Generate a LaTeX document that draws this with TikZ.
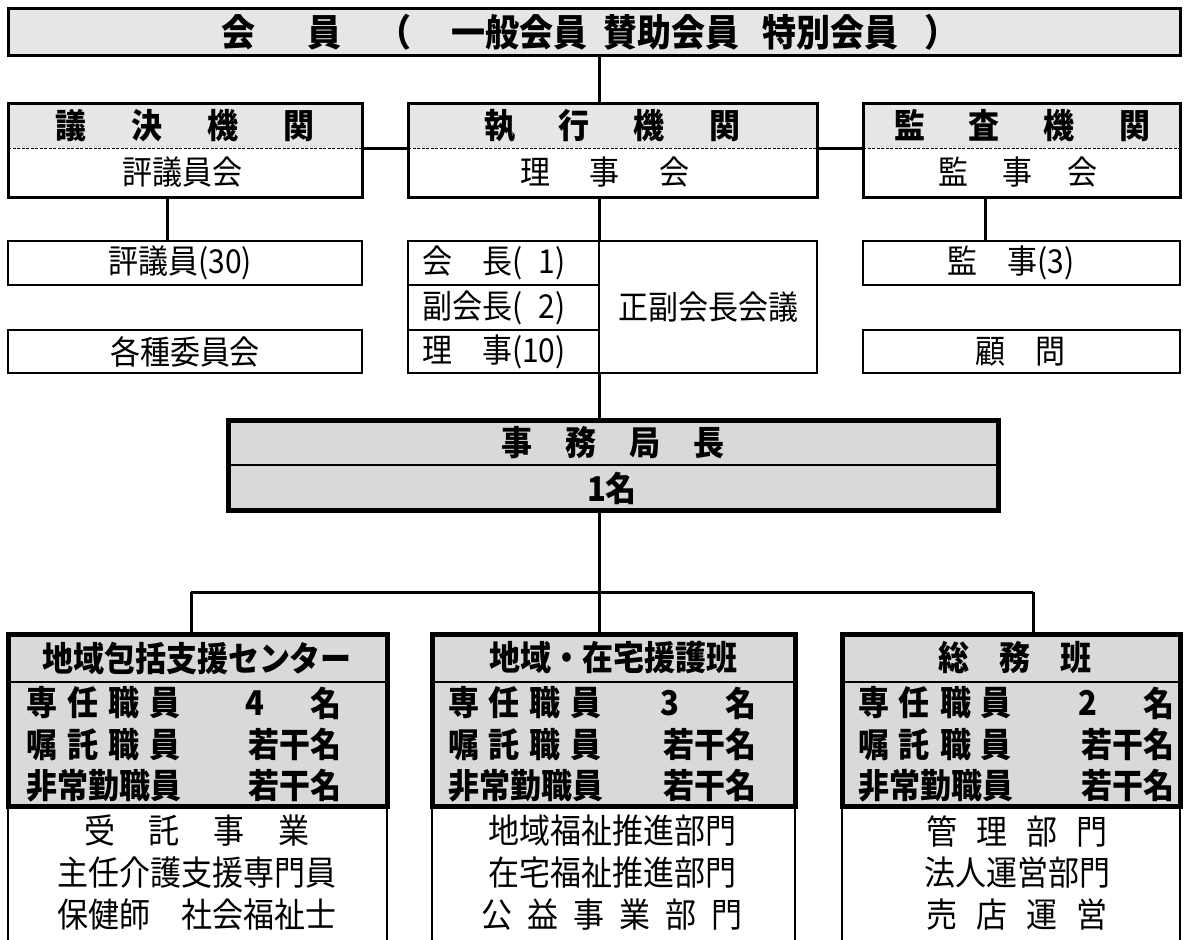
\documentclass[tikz,border=0pt]{standalone}
\usepackage{fontspec}
\newfontfamily\jp{Noto Sans CJK JP}
\usetikzlibrary{calc}
\definecolor{hdrgray}{HTML}{E6E6E6}
\definecolor{boxgray}{HTML}{D9D9D9}
\newcommand{\gapx}[1]{\hspace{#1pt}}
\newcommand{\tall}[1]{\scalebox{1}[1.1]{#1}}
\begin{document}
\begin{tikzpicture}[x=1pt,y=-1pt,
  box/.style={draw=black, inner sep=0pt, outer sep=0pt, anchor=north west},
  heavy/.style={line width=5pt},
  medium/.style={line width=3pt},
  light/.style={line width=2pt},
  conn/.style={draw=black, line width=3pt},
  divider/.style={draw=black, line width=1.5pt},
  sideline/.style={draw=black, line width=1.5pt},
  dashdiv/.style={draw=black, line width=1pt, dash pattern=on 3pt off 1.5pt},
  bt/.style={inner sep=0pt, outer sep=0pt, font=\jp\bfseries\fontsize{31}{31}\selectfont},
  bts/.style={inner sep=0pt, outer sep=0pt, font=\jp\bfseries\fontsize{31}{31}\selectfont},
  rt/.style={inner sep=0pt, outer sep=0pt, font=\jp\fontsize{30}{30}\selectfont},
  wt/.style={inner sep=0pt, outer sep=0pt, font=\jp\fontsize{31}{31}\selectfont},
]
\useasboundingbox (0,0) rectangle (1187,940);
\fill[white] (0,0) rectangle (1187,940);

% ---- members
\node[box, medium, fill=hdrgray, minimum width=1172pt, minimum height=47pt] (members) at (8,8) {};
\node[bt, font=\jp\bfseries\fontsize{34}{34}\selectfont] (memberstxt) at (590,32)
  {\tall{会\gapx{53}員\gapx{36}（\gapx{40}一般会員\gapx{16}賛助会員\gapx{23}特別会員\gapx{26}）}};

% ---- row 2
\fill[hdrgray] (8,103) rectangle (362,148);
\fill[hdrgray] (408,103) rectangle (817,148);
\fill[hdrgray] (863,103) rectangle (1180,148);
\node[box, medium, minimum width=354pt, minimum height=94pt] (giketsu) at (8,103) {};
\node[box, medium, minimum width=409pt, minimum height=94pt] (shikko) at (408,103) {};
\node[box, medium, minimum width=317pt, minimum height=94pt] (kansa) at (863,103) {};
\foreach \b in {giketsu,shikko,kansa}
  \draw[dashdiv] ($(\b.north west)+(0,45)$) -- ($(\b.north east)+(0,45)$);
\node[bt] (giketsuh) at (185,126) {\tall{議\gapx{45}決\gapx{45}機\gapx{45}関}};
\node[rt] (giketsul) at (182,172) {\tall{評議員会}};
\node[bt] (shikkoh) at (612,126) {\tall{執\gapx{44}行\gapx{44}機\gapx{44}関}};
\node[rt] (shikkol) at (605,172) {\tall{理\gapx{40}事\gapx{40}会}};
\node[bt] (kansah) at (1022,126) {\tall{監\gapx{44}査\gapx{44}機\gapx{44}関}};
\node[rt] (kansal) at (1018,172) {\tall{監\gapx{35}事\gapx{35}会}};

% ---- row 3
\node[box, light, minimum width=354pt, minimum height=44pt] (hyogiin) at (8,241) {};
\node[box, light, minimum width=354pt, minimum height=43pt] (iinkai) at (8,330) {};
\node[box, light, minimum width=191pt, minimum height=44pt] (kaicho) at (408,241) {};
\node[box, light, minimum width=191pt, minimum height=45pt] (fuku) at (408,285) {};
\node[box, light, minimum width=191pt, minimum height=43pt] (riji) at (408,330) {};
\node[box, light, minimum width=218pt, minimum height=132pt] (seifuku) at (599,241) {};
\node[box, light, minimum width=317pt, minimum height=44pt] (kanji) at (863,241) {};
\node[box, light, minimum width=317pt, minimum height=43pt] (komon) at (863,330) {};

\node[rt] (hyogiint) at (180,263) {\tall{評議員(30)}};
\node[rt] (iinkait) at (185,351.5) {\tall{各種委員会}};
\node[rt, anchor=west] (kaichot) at (422,263) {\tall{会　長(\hphantom{1}1)}};
\node[rt, anchor=west] (fukut) at (422,307.5) {\tall{副会長(\hphantom{1}2)}};
\node[rt, anchor=west] (rijit) at (422,351.5) {\tall{理　事(10)}};
\node[rt] (seifukut) at (708,307) {\tall{正副会長会議}};
\node[rt] (kanjit) at (1011,263) {\tall{監　事(3)}};
\node[rt] (komont) at (1020,351.5) {\tall{顧　問}};

% ---- connectors upper
\coordinate (colc) at (599,0);
\coordinate (colg) at (167,0);
\coordinate (colk) at (985,0);
\coordinate (rowline) at (0,148);
\draw[conn] (members.south -| colc) -- (shikko.north -| colc);
\draw[conn] (giketsu.east |- rowline) -- (shikko.west |- rowline);
\draw[conn] (shikko.east |- rowline) -- (kansa.west |- rowline);
\draw[conn] (giketsu.south -| colg) -- (hyogiin.north -| colg);
\draw[conn] (kansa.south -| colk) -- (kanji.north -| colk);
\draw[conn] (shikko.south -| colc) -- (seifuku.north west);

% ---- secretary general
\node[box, heavy, fill=boxgray, minimum width=770pt, minimum height=90pt] (jimu) at (228,420) {};
\draw[divider] ($(jimu.north west)+(0,45)$) -- ($(jimu.north east)+(0,45)$);
\node[bt] (jimut) at (613,443) {\tall{事\gapx{33}務\gapx{33}局\gapx{33}長}};
\node[bt] (jimun) at (612,488) {\tall{1名}};
\draw[conn] (riji.south east) -- (jimu.north -| colc);

% ---- bus
\coordinate (busL) at (191,592);
\coordinate (busR) at (1033,592);
\coordinate (busC) at (599,592);
\draw[conn] (jimu.south -| colc) -- (busC);
\draw[conn] (busL) -- (busR);

% ---- bottom boxes
\node[box, heavy, fill=boxgray, minimum width=379pt, minimum height=172pt] (chiiki) at (8,634) {};
\node[box, heavy, fill=boxgray, minimum width=363pt, minimum height=172pt] (zaitaku) at (432,634) {};
\node[box, heavy, fill=boxgray, minimum width=338pt, minimum height=172pt] (somu) at (842,634) {};
\draw[conn] (busL) -- (chiiki.north -| busL);
\draw[conn] (busC) -- (zaitaku.north -| busC);
\draw[conn] (busR) -- (somu.north -| busR);
\foreach \b in {chiiki,zaitaku,somu}{
  \draw[divider] ($(\b.north west)+(0,48)$) -- ($(\b.north east)+(0,48)$);
  \draw[sideline] (\b.south west) -- ++(0,140);
  \draw[sideline] (\b.south east) -- ++(0,140);
}
\node[bts] (chiikih) at (197,658) {\tall{地域包括支援センター}};
\node[bts] (zaitakuh) at (613,658) {\tall{地域・在宅援護班}};
\node[bts] (somuh) at (1015,658) {\tall{総\gapx{30}務\gapx{30}班}};

\foreach \bx/\lx/\vr/\dg in {chiiki/27/341/4, zaitaku/448/756/3, somu/858/1174/2}{
  \node[bts, anchor=west] (\bx-a1) at (\lx,703) {\tall{専\gapx{10}任\gapx{10}職\gapx{10}員}};
  \node[bts] (\bx-a2) at (\vr-86,703) {\tall{\dg}};
  \node[bts, anchor=east] (\bx-a3) at (\vr,703) {\tall{名}};
  \node[bts, anchor=west] (\bx-b1) at (\lx,744.5) {\tall{嘱\gapx{10}託\gapx{10}職\gapx{10}員}};
  \node[bts, anchor=east] (\bx-b2) at (\vr,744.5) {\tall{若干名}};
  \node[bts, anchor=west] (\bx-c1) at (\lx,785.5) {\tall{非常勤職員}};
  \node[bts, anchor=east] (\bx-c2) at (\vr,785.5) {\tall{若干名}};
}

\node[wt] (chiiki1) at (197,831) {\tall{受\gapx{34}託\gapx{34}事\gapx{34}業}};
\node[wt] (chiiki2) at (197,873) {\tall{主任介護支援専門員}};
\node[wt] (chiiki3) at (197,915) {\tall{保健師　社会福祉士}};
\node[wt] (zaitaku1) at (612,831) {\tall{地域福祉推進部門}};
\node[wt] (zaitaku2) at (612,873) {\tall{在宅福祉推進部門}};
\node[wt] (zaitaku3) at (612,915) {\tall{公\gapx{15}益\gapx{15}事\gapx{15}業\gapx{15}部\gapx{15}門}};
\node[wt] (somu1) at (1017,831) {\tall{管\gapx{19}理\gapx{19}部\gapx{19}門}};
\node[wt] (somu2) at (1017,873) {\tall{法人運営部門}};
\node[wt] (somu3) at (1017,915) {\tall{売\gapx{19}店\gapx{19}運\gapx{19}営}};
\end{tikzpicture}
\end{document}
